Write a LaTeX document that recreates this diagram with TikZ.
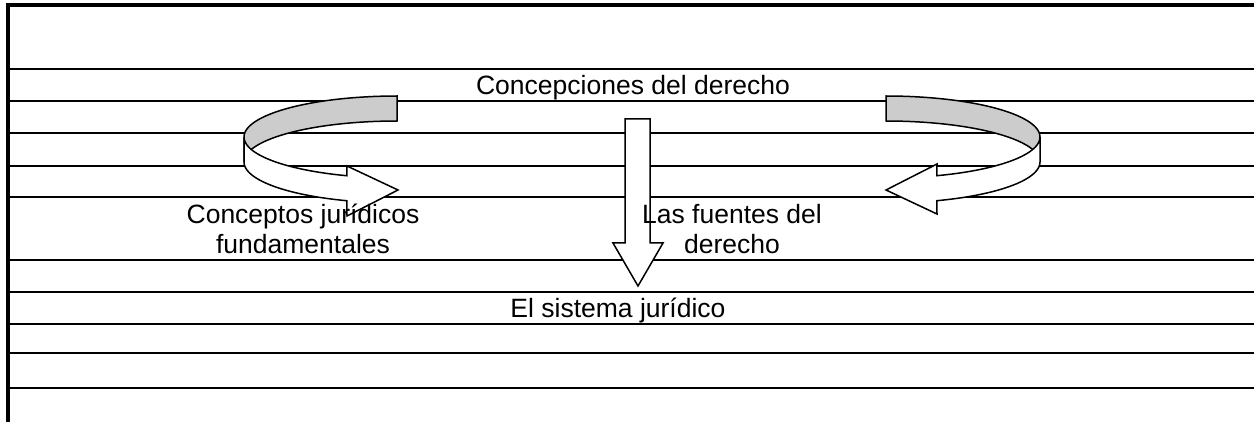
\documentclass[tikz,border=0pt]{standalone}
\usepackage{fontspec}
\setmainfont{Liberation Sans}
\definecolor{bandgray}{HTML}{CCCCCC}
\begin{document}
\begin{tikzpicture}[x=1pt,y=-1pt,
  rule/.style={line width=2pt},
  ribbon/.style={draw, line width=1.5pt, line join=miter},
  lbl/.style={font=\fontsize{26.5}{26.5}\selectfont, inner sep=0pt, anchor=base}]
\useasboundingbox (0,0) rectangle (1254,422);
% ruled lines
\foreach \yy in {69,101,133,166,197,260,292,324,353,388}
  \draw[rule] (8,\yy) -- (1254,\yy);
% frame
\draw[line width=3.5pt] (6,5) -- (1254,5);
\draw[line width=4pt] (8,3.25) -- (8,422);
% left curved arrow
\path[ribbon, fill=bandgray]
  plot[domain=90:180, samples=40] ({397+153*cos(\x)},{137-41*sin(\x)})
  -- plot[domain=180:90, samples=40] ({397+153*cos(\x)},{162-41*sin(\x)}) -- cycle;
\path[ribbon, fill=white]
  plot[domain=180:250.9, samples=40] ({397+153*cos(\x)},{137-41*sin(\x)})
  -- (347,166) -- (398,190) -- (347,216)
  -- plot[domain=250.9:180, samples=40] ({397+153*cos(\x)},{162-41*sin(\x)}) -- cycle;
% right curved arrow
\path[ribbon, fill=bandgray]
  plot[domain=90:0, samples=40] ({886+154*cos(\x)},{137-41*sin(\x)})
  -- plot[domain=0:90, samples=40] ({886+154*cos(\x)},{162-41*sin(\x)}) -- cycle;
\path[ribbon, fill=white]
  plot[domain=0:-70.7, samples=40] ({886+154*cos(\x)},{137-41*sin(\x)})
  -- (937,164) -- (886,190) -- (937,214)
  -- plot[domain=-70.7:0, samples=40] ({886+154*cos(\x)},{162-41*sin(\x)}) -- cycle;
% center arrow
\path[ribbon, fill=white] (625,119) -- (650,119) -- (650,243) -- (663,243)
  -- (638,286) -- (613,243) -- (625,243) -- cycle;
% labels
\node[lbl] (cd) at (633,95) {Concepciones del derecho};
\node[lbl] (cj1) at (303,224) {Conceptos jurídicos};
\node[lbl] (cj2) at (303,254) {fundamentales};
\node[lbl] (fd1) at (732,224) {Las fuentes del};
\node[lbl] (fd2) at (732,254) {derecho};
\node[lbl] (sj) at (618,318) {El sistema jurídico};
\end{tikzpicture}
\end{document}
